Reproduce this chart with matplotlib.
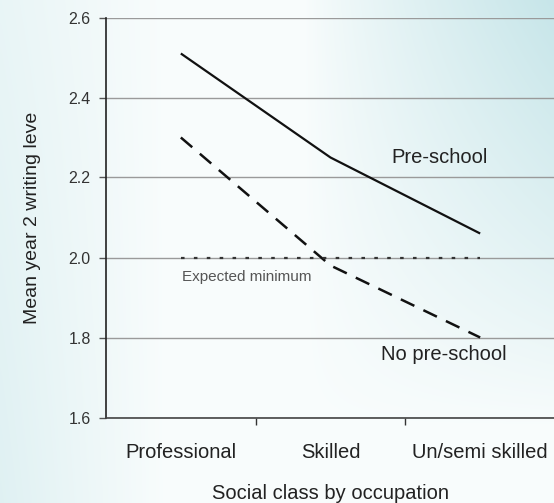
import matplotlib
matplotlib.use("Agg")
import matplotlib.pyplot as plt
import numpy as np

plt.rcParams['font.family'] = ['Liberation Sans', 'DejaVu Sans']

# data
categories = ['Professional', 'Skilled', 'Un/semi skilled']
pre_school = [2.51, 2.25, 2.06]
no_pre_school = [2.30, 1.98, 1.80]
expected_min = [2.0, 2.0, 2.0]
y_ticks = [1.6, 1.8, 2.0, 2.2, 2.4, 2.6]

fig = plt.figure(figsize=(5.54, 5.03), dpi=100)

# soft teal background gradient
bg = fig.add_axes([0, 0, 1, 1], zorder=0)
h, w = 200, 220
xx, yy = np.meshgrid(np.linspace(0, 1, w), np.linspace(1, 0, h))
right = np.clip((xx - 0.55) / 0.45, 0, 1) * np.clip((yy - 0.15) / 0.85, 0, 1)
left = np.clip((0.3 - xx) / 0.3, 0, 1) * (0.5 + 0.3 * (1 - yy))
wgt = np.clip(0.95 * right ** 0.85 + 0.6 * left, 0, 1)
white = np.array([0.975, 0.99, 0.99])
teal = np.array([0.77, 0.895, 0.91])
img = white[None, None, :] * (1 - wgt[..., None]) + teal[None, None, :] * wgt[..., None]
bg.imshow(img, aspect='auto', extent=[0, 1, 0, 1], interpolation='bicubic')
bg.axis('off')

ax = fig.add_axes([106 / 554, 85.5 / 503, 449 / 554, 400 / 503], zorder=1)
ax.set_facecolor('none')

x = np.arange(len(categories))
ax.plot(x, pre_school, color='#111111', lw=1.6, solid_capstyle='butt')
ax.plot(x, no_pre_school, color='#111111', lw=1.8, dashes=(6, 4))
ax.plot(x, expected_min, color='#333333', lw=1.6, dashes=(1.6, 4.2))

ax.set_xlim(-0.5, 2.5)
ax.set_ylim(1.6, 2.6)
ax.set_yticks(y_ticks)
ax.set_yticklabels([f'{v:.1f}' for v in y_ticks], fontsize=11.5, color='#333333')
ax.yaxis.grid(True, color='#9a9a9a', lw=1)
ax.set_axisbelow(True)

ax.set_xticks(x)
ax.set_xticklabels(categories, fontsize=14.5, color='#222222')
ax.tick_params(axis='x', length=0, pad=18)
ax.set_xticks([0.5, 1.5], minor=True)
ax.tick_params(axis='x', which='minor', length=5, width=1, color='#333333', direction='out')
ax.tick_params(axis='y', length=5, width=1, color='#555555', direction='out', pad=6)

for s in ['top', 'right']:
    ax.spines[s].set_visible(False)
ax.spines['left'].set_color('#222222')
ax.spines['bottom'].set_color('#444444')
ax.spines['left'].set_linewidth(1.2)
ax.spines['bottom'].set_linewidth(1.2)

ax.set_xlabel('Social class by occupation', fontsize=14.5, color='#222222', labelpad=16)
ax.set_ylabel('Mean year 2 writing leve', fontsize=14, color='#222222', labelpad=20)

ax.text(1.73, 2.25, 'Pre-school', fontsize=14.5, color='#222222', ha='center', va='center')
ax.text(1.76, 1.757, 'No pre-school', fontsize=14.5, color='#222222', ha='center', va='center')
ax.text(0.44, 1.951, 'Expected minimum', fontsize=11, color='#555555', ha='center', va='center')

fig.savefig('out.png', dpi=100)
